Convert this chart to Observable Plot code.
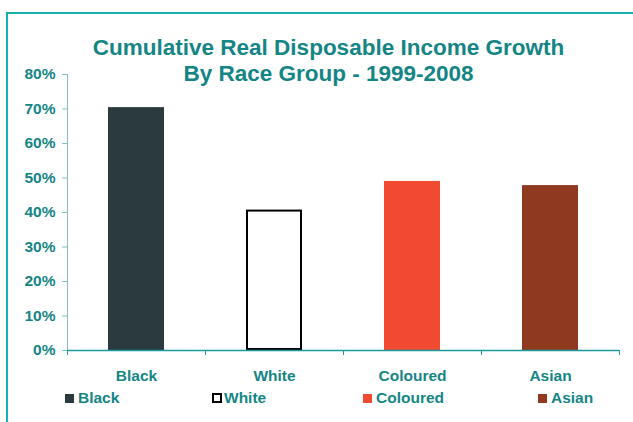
<!DOCTYPE html>
<html>
<head>
<meta charset="utf-8">
<script src="https://cdn.jsdelivr.net/npm/d3@7"></script>
<script src="https://cdn.jsdelivr.net/npm/@observablehq/plot@0.6"></script>
<style>
  html, body { margin: 0; padding: 0; background: #fff; }
  #wrap { position: relative; width: 633px; height: 422px; overflow: hidden; font-family: "Liberation Sans", Arial, sans-serif; }
  #border { position: absolute; left: 6px; top: 12px; right: -10px; bottom: -10px; border-top: 2px solid #17b0b0; border-left: 2px solid #17b0b0; }
  #title { position: absolute; left: 12px; top: 35px; width: 633px; text-align: center; font-size: 22.5px; line-height: 26px; font-weight: bold; color: #148585; }
  #chart { position: absolute; left: 0; top: 0; }
  #legend { position: absolute; left: 0; top: 389px; width: 633px; height: 20px; font-size: 15.5px; font-weight: bold; color: #148585; }
  .item { position: absolute; top: 0; display: flex; align-items: center; height: 18px; }
  .sw { width: 9px; height: 9px; margin-right: 4px; box-sizing: border-box; }
</style>
</head>
<body>
<div id="wrap">
  <div id="border"></div>
  <div id="chart"></div>
  <div id="title">Cumulative Real Disposable Income Growth<br>By Race Group - 1999-2008</div>
  <div id="legend"></div>
</div>
<script>
const categories = ["Black", "White", "Coloured", "Asian"];
const growth = [70.4, 40.7, 49.0, 47.8];
const colors = ["#2b3a3e", "#ffffff", "#f04a32", "#8f3a20"];
const yTicks = [0, 10, 20, 30, 40, 50, 60, 70, 80];

const data = categories.map((c, i) => ({category: c, value: growth[i]}));

const W = 633, H = 422;
const mL = 67, mR = 14, mT = 74, mB = 72;
const step = (W - mL - mR) / categories.length;
const teal = "#148585";

const chart = Plot.plot({
  width: W, height: H,
  marginLeft: mL, marginRight: mR, marginTop: mT, marginBottom: mB,
  style: {fontFamily: "'Liberation Sans', Arial, sans-serif", background: "transparent", overflow: "visible"},
  x: {domain: categories, paddingInner: 0.595, paddingOuter: 0.2975, label: null},
  y: {domain: [0, 80], label: null},
  color: {domain: categories, range: colors},
  marks: [
    Plot.barY(data, {x: "category", y: "value", fill: "category"}),
    Plot.barY(data.filter(d => d.category === "White"), {x: "category", y: "value", fill: "white", stroke: "black", strokeWidth: 2, inset: 1}),
    Plot.frame({anchor: "left", stroke: "#80c0c0", strokeWidth: 1}),
    Plot.axisY(yTicks, {tickSize: 5, tickPadding: 7, stroke: "#80c0c0", fill: teal, fontSize: 15.5, fontWeight: "bold", tickFormat: d => d + "%", label: null}),
    Plot.ruleY([0], {stroke: "#1a9a9a", strokeWidth: 1.5}),
    Plot.ruleX(categories, {x: d => d, y1: 0, y2: 0, insetBottom: -5, dx: -step / 2, stroke: "#1a9a9a"}),
    Plot.ruleX(categories.slice(-1), {x: d => d, y1: 0, y2: 0, insetBottom: -5, dx: step / 2, stroke: "#1a9a9a"}),
    Plot.axisX({tickSize: 0, tickPadding: 19, fill: teal, fontSize: 15.5, fontWeight: "bold", label: null})
  ]
});
document.getElementById("chart").appendChild(chart);

// legend
const legendLeft = [65, 212, 363, 538];
const legend = document.getElementById("legend");
categories.forEach((c, i) => {
  const item = document.createElement("div");
  item.className = "item";
  item.style.left = legendLeft[i] + "px";
  const sw = document.createElement("div");
  sw.className = "sw";
  sw.style.background = colors[i];
  if (c === "White") { sw.style.border = "2px solid #000"; sw.style.width = "10px"; sw.style.height = "10px"; sw.style.marginRight = "2px"; }
  const t = document.createElement("span");
  t.textContent = c;
  item.appendChild(sw); item.appendChild(t);
  legend.appendChild(item);
});
</script>
</body>
</html>
